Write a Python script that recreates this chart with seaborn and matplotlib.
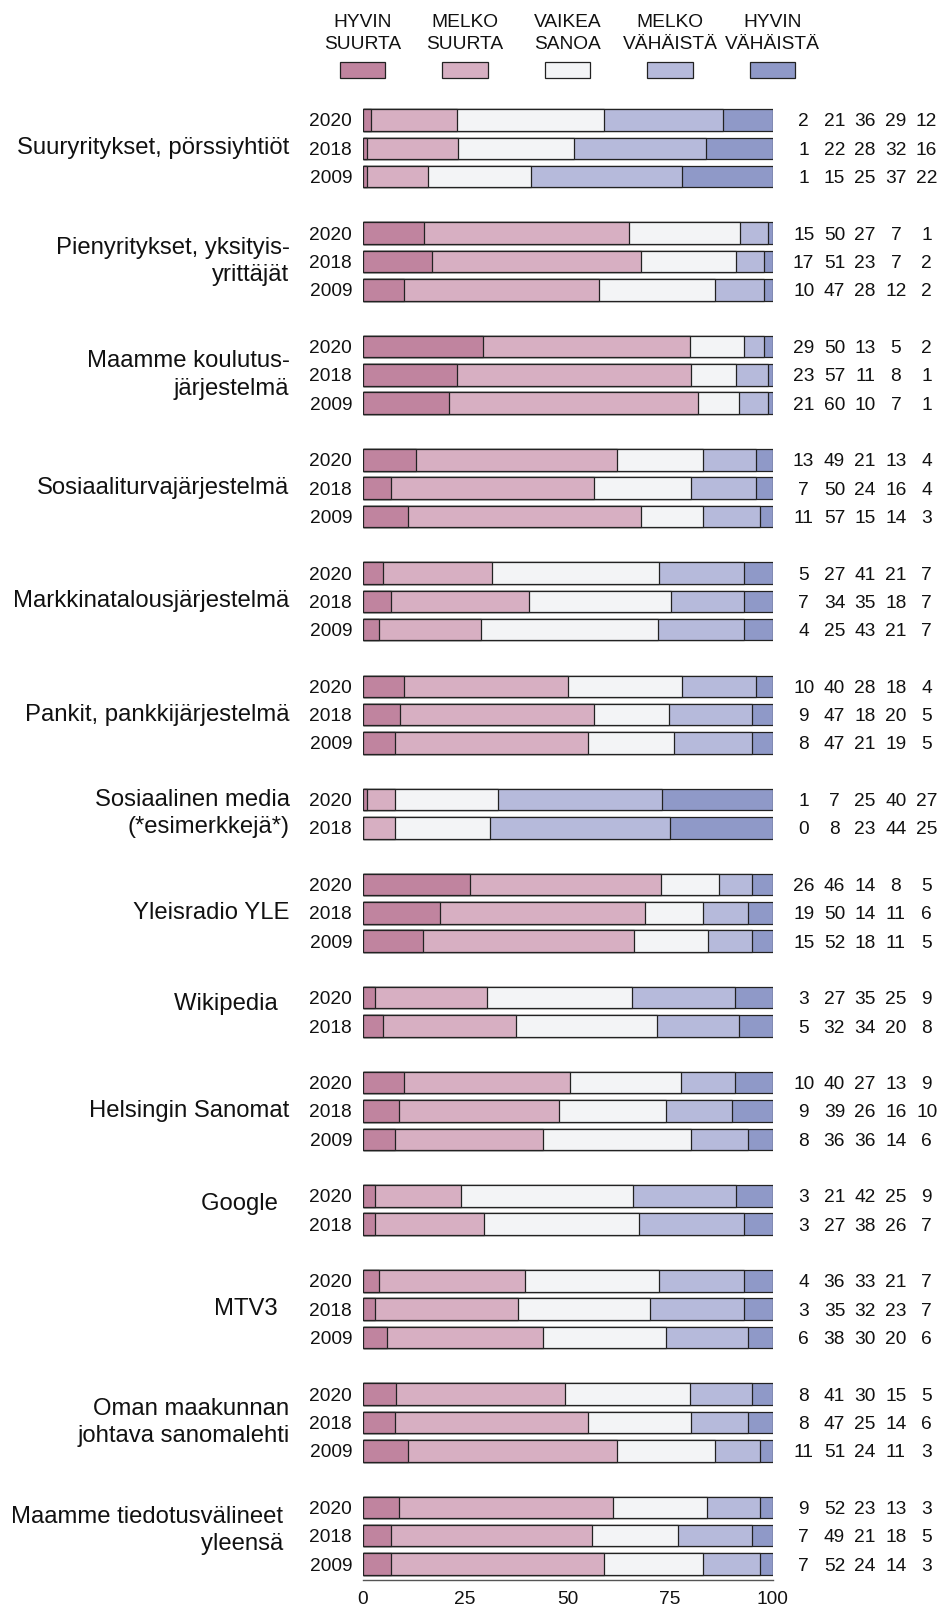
import numpy as np
import pandas as pd
import matplotlib
matplotlib.use("Agg")
import matplotlib.pyplot as plt
import seaborn as sns

# ---------------- data ----------------
categories = [
    "Suuryritykset, pörssiyhtiöt",
    "Pienyritykset, yksityis-\nyrittäjät",
    "Maamme koulutus-\njärjestelmä",
    "Sosiaaliturvajärjestelmä",
    "Markkinatalousjärjestelmä",
    "Pankit, pankkijärjestelmä",
    "Sosiaalinen media\n(*esimerkkejä*)",
    "Yleisradio YLE",
    "Wikipedia\u2002",
    "Helsingin Sanomat",
    "Google\u2002",
    "MTV3\u2002",
    "Oman maakunnan\njohtava sanomalehti",
    "Maamme tiedotusvälineet \nyleensä ",
]
rows_per_category = [3, 3, 3, 3, 3, 3, 2, 3, 2, 3, 2, 3, 3, 3]
row_years = (["2020", "2018", "2009"] * 6 + ["2020", "2018"] + ["2020", "2018", "2009"]
             + ["2020", "2018"] + ["2020", "2018", "2009"] + ["2020", "2018"]
             + ["2020", "2018", "2009"] * 3)

response_labels = ["HYVIN\nSUURTA", "MELKO\nSUURTA", "VAIKEA\nSANOA", "MELKO\nVÄHÄISTÄ", "HYVIN\nVÄHÄISTÄ"]

hyvin_suurta = [2, 1, 1, 15, 17, 10, 29, 23, 21, 13, 7, 11, 5, 7, 4, 10, 9, 8, 1, 0,
                26, 19, 15, 3, 5, 10, 9, 8, 3, 3, 4, 3, 6, 8, 8, 11, 9, 7, 7]
melko_suurta = [21, 22, 15, 50, 51, 47, 50, 57, 60, 49, 50, 57, 27, 34, 25, 40, 47, 47, 7, 8,
                46, 50, 52, 27, 32, 40, 39, 36, 21, 27, 36, 35, 38, 41, 47, 51, 52, 49, 52]
vaikea_sanoa = [36, 28, 25, 27, 23, 28, 13, 11, 10, 21, 24, 15, 41, 35, 43, 28, 18, 21, 25, 23,
                14, 14, 18, 35, 34, 27, 26, 36, 42, 38, 33, 32, 30, 30, 25, 24, 23, 21, 24]
melko_vahaista = [29, 32, 37, 7, 7, 12, 5, 8, 7, 13, 16, 14, 21, 18, 21, 18, 20, 19, 40, 44,
                  8, 11, 11, 25, 20, 13, 16, 14, 25, 26, 21, 23, 20, 15, 14, 11, 13, 18, 14]
hyvin_vahaista = [12, 16, 22, 1, 2, 2, 2, 1, 1, 4, 4, 3, 7, 7, 7, 4, 5, 5, 27, 25,
                  5, 6, 5, 9, 8, 9, 10, 6, 9, 7, 7, 7, 6, 5, 6, 3, 3, 5, 3]

x_ticks = [0, 25, 50, 75, 100]

# ---------------- style ----------------
colors = ["#C0849F", "#D7AFC2", "#F3F4F6", "#B6BADB", "#8F99C8"]
edge = "#222222"
axis_gray = "#555555"
# small vertical nudges of some category labels (in row units)
label_nudge = [0, 0, 0, 0, 0, 0, 0, 0, -0.27, 0, -0.23, 0, 0, -0.18]

sns.set_style("white")
plt.rcParams["font.family"] = ["Liberation Sans", "DejaVu Sans"]

# ---------------- layout ----------------
positions = []
group_centers = []
slot = 0
for n in rows_per_category:
    grp = list(range(slot, slot + n))
    positions += grp
    group_centers.append(np.mean(grp))
    slot += n + 1
positions = np.array(positions, dtype=float)

values = np.array([hyvin_suurta, melko_suurta, vaikea_sanoa, melko_vahaista, hyvin_vahaista]).T
cum = np.cumsum(values, axis=1) / values.sum(axis=1, keepdims=True) * 100

W, H = 941, 1609
fig = plt.figure(figsize=(W / 100, H / 100), dpi=100)
ax_left, ax_right = 362.5, 772.5
ax_top, ax_bottom = 104.4, 1579.6
ax = fig.add_axes([ax_left / W, 1 - ax_bottom / H, (ax_right - ax_left) / W, (ax_bottom - ax_top) / H])

for k in reversed(range(5)):
    sns.barplot(x=cum[:, k], y=positions, orient="h", native_scale=True,
                color=colors[k], saturation=1, edgecolor=edge, linewidth=0.9,
                width=0.76, errorbar=None, ax=ax)

ax.set_xlim(0, 100)
ax.set_ylim(positions.max() + 0.55, -0.55)
ax.set_xlabel("")
ax.set_ylabel("")
ax.set_yticks(positions, row_years)
ax.tick_params(axis="y", length=0, pad=7.5, labelsize=13.8, colors="#111111")
ax.set_xticks(x_ticks, [str(t) for t in x_ticks])
ax.tick_params(axis="x", length=4.5, width=1, pad=4, labelsize=13.8,
               color=axis_gray, labelcolor="#111111")
for s in ["top", "right", "left"]:
    ax.spines[s].set_visible(False)
ax.spines["bottom"].set_color(axis_gray)
ax.spines["bottom"].set_linewidth(1)
ax.grid(False)

# numbers on the right
for i, p in enumerate(positions):
    for k in range(5):
        ax.text(107.6 + 7.5 * k, p, str(values[i, k]), ha="center", va="center_baseline",
                fontsize=13.8, color="#111111", clip_on=False)

# category labels
for lab, c, d in zip(categories, group_centers, label_nudge):
    ax.text(-17.8, c + d, lab, ha="right", va="center", fontsize=17.2,
            color="#111111", linespacing=1.33, clip_on=False)

# legend
lax = fig.add_axes([ax_left / W, 1 - 95 / H, (ax_right - ax_left) / W, 95 / H])
lax.set_xlim(0, 100)
lax.set_ylim(95, 0)
lax.axis("off")
legend_x = np.linspace(0, 100, 5)
lax.bar(legend_x, 15.4, bottom=62.3, width=11, color=colors, edgecolor=edge,
        linewidth=0.9, clip_on=False)
for x, lab in zip(legend_x, response_labels):
    lax.text(x, 33.5, lab, ha="center", va="center", fontsize=13.8,
             color="#111111", linespacing=1.32, clip_on=False)

fig.savefig("out.png", dpi=100)
